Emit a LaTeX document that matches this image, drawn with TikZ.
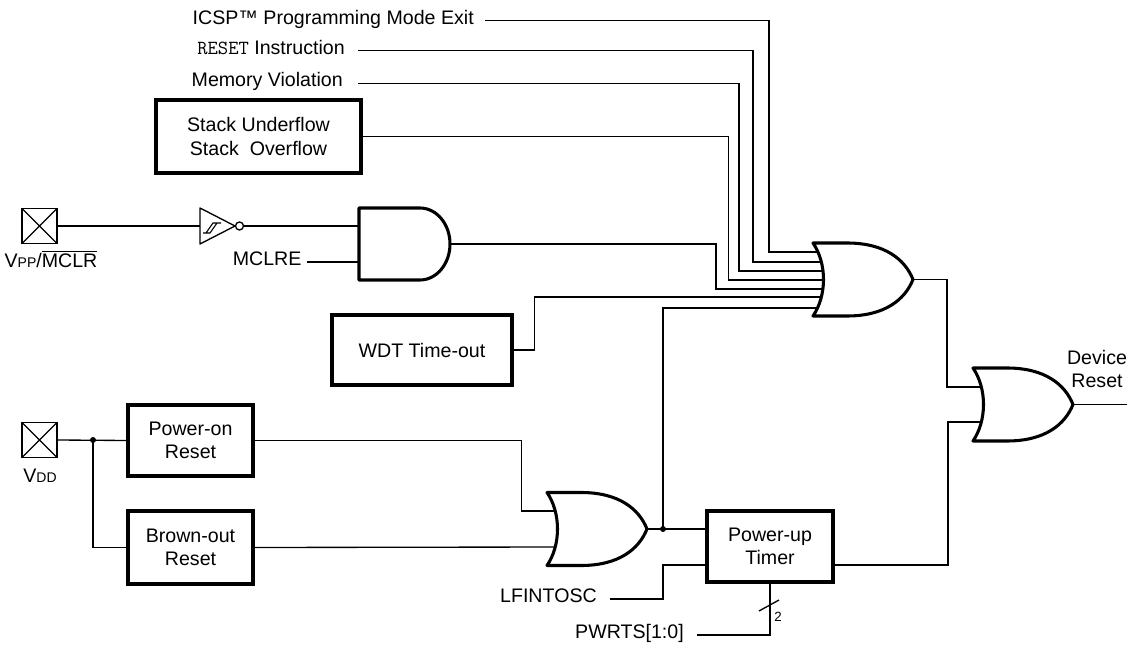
\documentclass[tikz,border=0pt]{standalone}
\usepackage{fontspec}
\setmainfont{Liberation Sans}
\pgfdeclarelayer{bg}
\pgfsetlayers{bg,main}
\tikzset{
  orgate/.pic={
    \draw[gate] (0,-36.5) .. controls (14,-16) and (14,16) .. (0,36.5)
      -- (34,36.5) .. controls (72,36.5) and (92,20) .. (100,0)
      .. controls (92,-20) and (72,-36.5) .. (34,-36.5) -- cycle;
    \coordinate (-out) at (100,0);
  }
}
\begin{document}
\begin{tikzpicture}[x=0.75pt,y=-0.75pt,
  every node/.style={font=\fontsize{14.7}{17.5}\selectfont},
  wire/.style={line width=1pt},
  gate/.style={line width=2.3pt, fill=white, line join=round},
  blk/.style={draw, line width=2.4pt, fill=white, align=center, inner sep=0pt},
  lbl/.style={inner ysep=0pt, align=center},
  padbox/.style={draw, line width=1pt, minimum size={35*0.75}, inner sep=0pt,
    path picture={\draw[line width=1pt] (path picture bounding box.north west) -- (path picture bounding box.south east)
      (path picture bounding box.south west) -- (path picture bounding box.north east);}},
  jdot/.style={circle, fill, inner sep=0pt, minimum size=4.5pt}
]
\useasboundingbox (0,0) rectangle (1128,648);

% ---------- blocks ----------
\node[blk, minimum width={205*0.75}, minimum height={73*0.75}] (stack) at (258.5,136.5) {Stack Underflow\\Stack\ \ Overflow};
\node[blk, minimum width={180*0.75}, minimum height={70*0.75}] (wdt) at (422,350) {WDT Time-out};
\node[blk, minimum width={125*0.75}, minimum height={71*0.75}] (por) at (190.5,440.5) {Power-on\\Reset};
\node[blk, minimum width={125*0.75}, minimum height={73*0.75}] (bor) at (190.5,547.5) {Brown-out\\Reset};
\node[blk, minimum width={126*0.75}, minimum height={71*0.75}] (put) at (770,546.5) {Power-up\\Timer};

% ---------- pads ----------
\node[padbox] (mpad) at (39.5,226) {};
\node[padbox] (vpad) at (39.5,440) {};
\node[lbl] (mpadlbl) at (51,259) {V{\fontsize{10.5}{12}\selectfont PP}/$\overline{\hbox{MCLR}}$};
\node[lbl] (vpadlbl) at (40,476) {V{\fontsize{10.5}{12}\selectfont DD}};

% ---------- text inputs ----------
\node[lbl, anchor=mid east, inner xsep=8.25pt] (icsp) at (485,20.7) {ICSP™ Programming Mode Exit};
\node[lbl, anchor=mid east, inner xsep=9.75pt] (rst) at (358,50.7) {{\fontsize{15}{16}\selectfont\ttfamily RESET} Instruction};
\node[lbl, anchor=mid east, inner xsep=11.25pt] (mem) at (358,83.3) {Memory Violation};
\node[lbl, anchor=mid east, inner xsep=3.75pt] (mclre) at (306.7,262) {MCLRE};
\node[lbl, anchor=mid east, inner xsep=9.75pt] (lfosc) at (610,599) {LFINTOSC};
\node[lbl, anchor=mid east, inner xsep=9.75pt] (pwrts) at (697,635) {PWRTS[1:0]};
\node[lbl] (devrst) at (1097,369) {Device\\Reset};

% ---------- gates ----------
\pic (or1) at (813,279.5) {orgate};
\pic (or2) at (547,529) {orgate};
\pic (or3) at (973,404.5) {orgate};
\draw[gate] (359,208) -- (420,208) arc[start angle=-90, end angle=90, x radius=30, y radius=36] -- (359,280) -- cycle;
\coordinate (andout) at (450,244);
\coordinate (andin1) at (362,226);
\coordinate (andin2) at (362,262);
% Schmitt-trigger inverter
\draw[line width=1pt, fill=white, line join=round] (200,208) -- (235,226) -- (200,244) -- cycle;
\draw[line width=1pt] (239.5,226) circle[radius=4];
\draw[line width=0.8pt] (203,233) -- (210,233) -- (217,223) -- (221,223) (217,223) -- (213,223) -- (206,233);
\coordinate (bufin) at (200,226);
\coordinate (bufout) at (243.5,226);

% gate input points
\coordinate (or1in1) at (826,252);
\coordinate (or1in2) at (826,262);
\coordinate (or1in3) at (826,271);
\coordinate (or1in4) at (826,280);
\coordinate (or1in5) at (826,289);
\coordinate (or1in6) at (826,297);
\coordinate (or1in7) at (826,308);
\coordinate (or2in1) at (560,511);
\coordinate (or2in2) at (560,547);
\coordinate (or3in1) at (986,387);
\coordinate (or3in2) at (986,422);
\coordinate (putin1) at (707,529);
\coordinate (putin2) at (707,565);
\coordinate (putout) at (833,565);
\coordinate (devout) at (1127,404.5);

\node[jdot] (pdot) at (663,529) {};
\node[jdot] (vdot) at (93,440) {};

% ---------- wires ----------
\begin{pgfonlayer}{bg}
\draw[wire] (icsp.mid east) -- ++(284,0) |- (or1in1);
\draw[wire] (rst.mid east) -- ++(395,0) |- (or1in2);
\draw[wire] (mem.mid east) -- ++(381,0) |- (or1in3);
\draw[wire] (stack.east) -- ++(366,0) |- (or1in4);
\draw[wire] (andout) -- ++(266,0) |- (or1in5);
\draw[wire] (wdt.east) -- ++(21,0) |- (or1in6);
\draw[wire] (pdot.center) |- (or1in7);
\draw[wire] (mpad.east) -- (bufin);
\draw[wire] (bufout) -- (andin1);
\draw[wire] (mclre.mid east) -- (andin2);
\draw[wire] (vpad.east) -- (por.west);
\draw[wire] (vdot.center) |- (bor.west);
\draw[wire] (por.east) -- ++(267,0) |- (or2in1);
\draw[wire] (bor.east) -- (or2in2);
\draw[wire] (or2-out) -- (putin1);
\draw[wire] (lfosc.mid east) -- ++(53,0) |- (putin2);
\draw[wire] (pwrts.mid east) -| (put.south);
\draw[wire] (putout) -- ++(115,0) |- (or3in2);
\draw[wire] (or1-out) -- ++(34,0) |- (or3in1);
\draw[wire] (or3-out) -- (devout);
\end{pgfonlayer}

% bus width mark
\draw[wire] (759,611) -- (779,600);
\node[font=\fontsize{10}{12}\selectfont, inner sep=0pt] (bw) at (778,617) {2};
\end{tikzpicture}
\end{document}
